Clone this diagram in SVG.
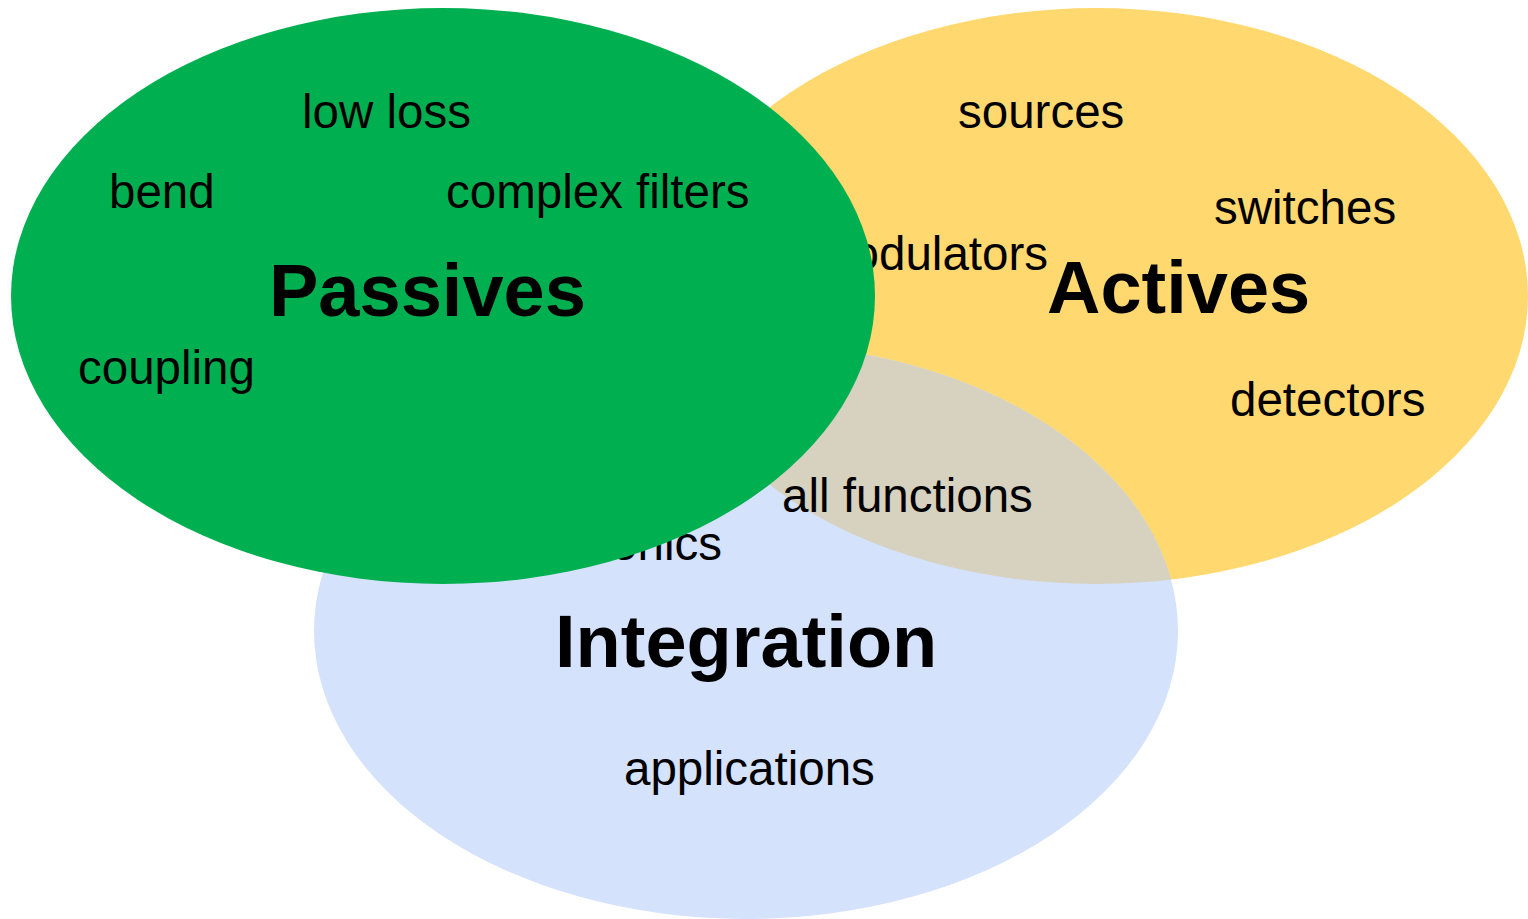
<svg xmlns="http://www.w3.org/2000/svg" width="1528" height="919" viewBox="0 0 1528 919">
  <style>
    .lbl { font-family: "Liberation Sans", Arial, sans-serif; font-size: 47.5px; fill: #000; }
    .ttl { font-family: "Liberation Sans", Arial, sans-serif; font-size: 74px; font-weight: bold; fill: #000; }
  </style>
  <defs>
    <clipPath id="clipActives">
      <ellipse cx="1096" cy="296" rx="432" ry="288"/>
    </clipPath>
  </defs>
  <rect width="1528" height="919" fill="#ffffff"/>
  <g id="actives">
    <ellipse cx="1096" cy="296" rx="432" ry="288" fill="#FFD96F"/>
  </g>
  <g id="integration">
    <ellipse cx="746" cy="631" rx="432" ry="288" fill="#D5E2FC"/>
    <ellipse cx="746" cy="631" rx="432" ry="288" fill="#D6D2BF" clip-path="url(#clipActives)"/>
  </g>
  <g id="actives-labels">
    <text class="lbl" x="958" y="128">sources</text>
    <text class="lbl" x="1214" y="224">switches</text>
    <text class="lbl" x="1048" y="270" text-anchor="end">modulators</text>
    <text class="ttl" x="1047" y="313">Actives</text>
    <text class="lbl" x="1230" y="416">detectors</text>
  </g>
  <g id="integration-labels">
    <text class="lbl" x="782" y="512">all functions</text>
    <text class="lbl" x="722" y="560" text-anchor="end">photonics</text>
    <text class="ttl" x="555" y="667">Integration</text>
    <text class="lbl" x="624" y="785">applications</text>
  </g>
  <g id="passives">
    <ellipse cx="443" cy="296" rx="432" ry="288" fill="#00B050"/>
    <text class="lbl" x="302" y="128">low loss</text>
    <text class="lbl" x="109" y="208">bend</text>
    <text class="lbl" x="446" y="208">complex filters</text>
    <text class="ttl" x="269" y="316">Passives</text>
    <text class="lbl" x="78" y="384">coupling</text>
  </g>
  <g id="connectors"/>
</svg>
